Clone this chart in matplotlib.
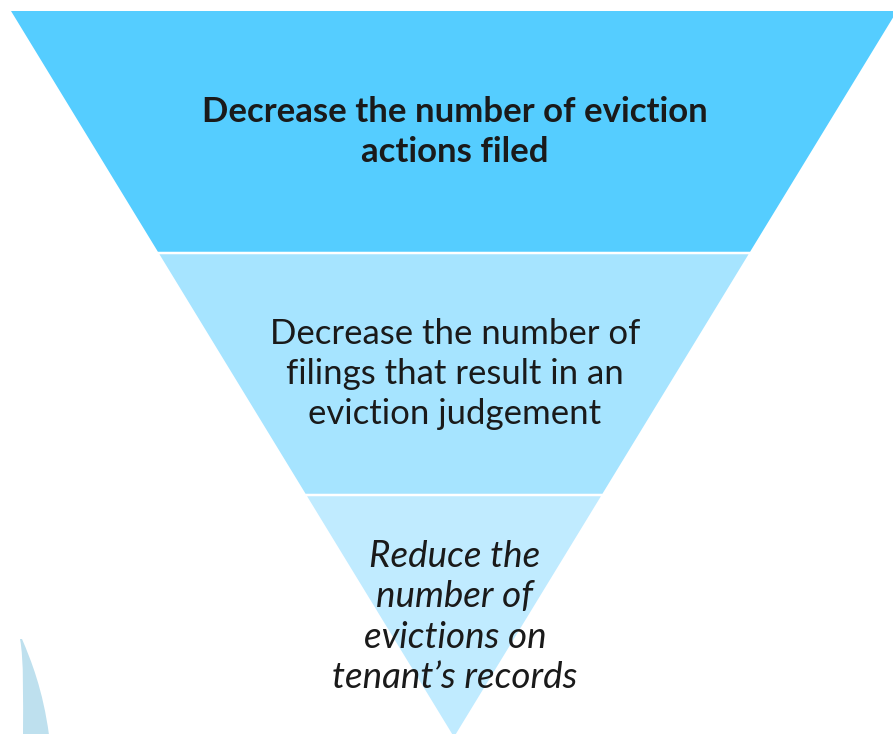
import matplotlib
matplotlib.use("Agg")
import matplotlib.pyplot as plt
from matplotlib.patches import Polygon, PathPatch
from matplotlib.path import Path
import numpy as np

# ---- data ----
stages = [
    "Decrease the number of eviction\nactions filed",
    "Decrease the number of\nfilings that result in an\neviction judgement",
    "Reduce the\nnumber of\nevictions on\ntenant\u2019s records",
]
stage_colors = ["#55CDFF", "#A6E4FF", "#C0EBFF"]
stage_weights = ["bold", "normal", "normal"]
stage_styles = ["normal", "normal", "italic"]
stage_sizes = [25, 25, 26.5]
stage_spacing = [1.28, 1.29, 1.275]

# ---- layout (pixel space) ----
W, H = 893, 734
top_y, apex_y = 11.0, 737.0
center_x, half_top = 454.0, 443.0
gap = 2.5

fig = plt.figure(figsize=(W / 100, H / 100), dpi=100)
ax = fig.add_axes([0, 0, 1, 1])
ax.set_xlim(0, W)
ax.set_ylim(H, 0)
ax.axis("off")

def half_width(y):
    return half_top * (apex_y - y) / (apex_y - top_y)

n = len(stages)
band = (apex_y - top_y) / n
for i, label in enumerate(stages):
    y0 = top_y + i * band + (gap / 2 if i > 0 else 0)
    y1 = top_y + (i + 1) * band - (gap / 2 if i < n - 1 else 0)
    pts = [(center_x - half_width(y0), y0), (center_x + half_width(y0), y0),
           (center_x + half_width(y1), y1), (center_x - half_width(y1), y1)]
    ax.add_patch(Polygon(pts, closed=True, facecolor=stage_colors[i], edgecolor="none"))
    yc = top_y + (i + 0.5) * band
    ax.text(center_x + 1, yc + (1 if i == 2 else 0), label, ha="center", va="center",
            fontsize=stage_sizes[i],
            family=["Lato", "DejaVu Sans"], fontweight=stage_weights[i],
            fontstyle=stage_styles[i], color="#1A1A1A",
            linespacing=stage_spacing[i], multialignment="center")

# decorative faint crescent at bottom-left
verts = [(20, 639), (24, 660), (23, 700), (23, 735),
         (49, 735),
         (43, 690), (31, 660), (22, 639),
         (20, 639)]
codes = [Path.MOVETO, Path.CURVE4, Path.CURVE4, Path.CURVE4,
         Path.LINETO,
         Path.CURVE4, Path.CURVE4, Path.CURVE4,
         Path.CLOSEPOLY]
ax.add_patch(PathPatch(Path(verts, codes), facecolor="#BEE0EE", edgecolor="none"))

fig.savefig("out.png", dpi=100)
